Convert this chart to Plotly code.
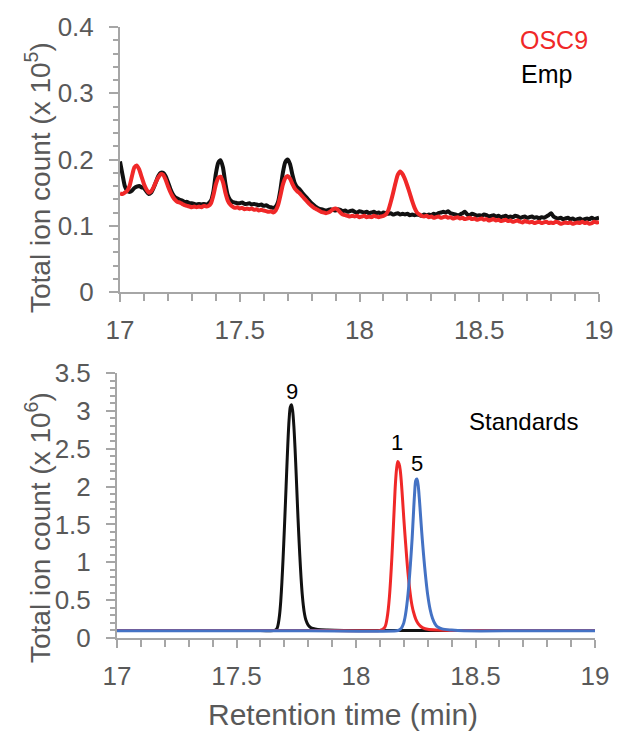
import plotly.graph_objects as go

# ---------------- DATA ----------------
# Top panel: sample extracts (x 10^5 total ion count)
time_top = [
    17.00, 17.01, 17.02, 17.03, 17.04, 17.05, 17.06, 17.07, 17.08, 17.09,
    17.10, 17.11, 17.12, 17.13, 17.14, 17.15, 17.16, 17.17, 17.18, 17.19,
    17.20, 17.21, 17.22, 17.23, 17.24, 17.25, 17.26, 17.27, 17.28, 17.29,
    17.30, 17.31, 17.32, 17.33, 17.34, 17.35, 17.36, 17.37, 17.38, 17.39,
    17.40, 17.41, 17.42, 17.43, 17.44, 17.45, 17.46, 17.47, 17.48, 17.49,
    17.50, 17.51, 17.52, 17.53, 17.54, 17.55, 17.56, 17.57, 17.58, 17.59,
    17.60, 17.61, 17.62, 17.63, 17.64, 17.65, 17.66, 17.67, 17.68, 17.69,
    17.70, 17.71, 17.72, 17.73, 17.74, 17.75, 17.76, 17.77, 17.78, 17.79,
    17.80, 17.81, 17.82, 17.83, 17.84, 17.85, 17.86, 17.87, 17.88, 17.89,
    17.90, 17.91, 17.92, 17.93, 17.94, 17.95, 17.96, 17.97, 17.98, 17.99,
    18.00, 18.01, 18.02, 18.03, 18.04, 18.05, 18.06, 18.07, 18.08, 18.09,
    18.10, 18.11, 18.12, 18.13, 18.14, 18.15, 18.16, 18.17, 18.18, 18.19,
    18.20, 18.21, 18.22, 18.23, 18.24, 18.25, 18.26, 18.27, 18.28, 18.29,
    18.30, 18.31, 18.32, 18.33, 18.34, 18.35, 18.36, 18.37, 18.38, 18.39,
    18.40, 18.41, 18.42, 18.43, 18.44, 18.45, 18.46, 18.47, 18.48, 18.49,
    18.50, 18.51, 18.52, 18.53, 18.54, 18.55, 18.56, 18.57, 18.58, 18.59,
    18.60, 18.61, 18.62, 18.63, 18.64, 18.65, 18.66, 18.67, 18.68, 18.69,
    18.70, 18.71, 18.72, 18.73, 18.74, 18.75, 18.76, 18.77, 18.78, 18.79,
    18.80, 18.81, 18.82, 18.83, 18.84, 18.85, 18.86, 18.87, 18.88, 18.89,
    18.90, 18.91, 18.92, 18.93, 18.94, 18.95, 18.96, 18.97, 18.98, 18.99,
    19.00,
]

emp_counts = [
    0.197, 0.178, 0.160, 0.153, 0.151, 0.153, 0.157, 0.159, 0.160, 0.158,
    0.157, 0.152, 0.148, 0.150, 0.157, 0.166, 0.175, 0.180, 0.180, 0.175,
    0.166, 0.156, 0.148, 0.143, 0.141, 0.139, 0.138, 0.136, 0.136, 0.134,
    0.134, 0.133, 0.132, 0.133, 0.132, 0.133, 0.132, 0.134, 0.138, 0.152,
    0.178, 0.195, 0.199, 0.188, 0.164, 0.146, 0.139, 0.136, 0.135, 0.134,
    0.134, 0.135, 0.133, 0.133, 0.134, 0.132, 0.133, 0.132, 0.131, 0.132,
    0.130, 0.131, 0.129, 0.128, 0.127, 0.129, 0.136, 0.155, 0.180, 0.196,
    0.200, 0.193, 0.177, 0.164, 0.158, 0.155, 0.150, 0.146, 0.142, 0.138,
    0.134, 0.131, 0.128, 0.126, 0.125, 0.124, 0.123, 0.124, 0.125, 0.124,
    0.123, 0.125, 0.124, 0.122, 0.123, 0.121, 0.122, 0.123, 0.121, 0.120,
    0.122, 0.121, 0.120, 0.121, 0.119, 0.120, 0.121, 0.119, 0.120, 0.118,
    0.120, 0.119, 0.118, 0.119, 0.117, 0.118, 0.119, 0.117, 0.118, 0.117,
    0.118, 0.116, 0.117, 0.116, 0.117, 0.116, 0.115, 0.117, 0.116, 0.117,
    0.116, 0.118, 0.117, 0.119, 0.120, 0.121, 0.120, 0.122, 0.119, 0.118,
    0.117, 0.116, 0.117, 0.119, 0.121, 0.117, 0.116, 0.118, 0.117, 0.115,
    0.116, 0.115, 0.117, 0.116, 0.114, 0.115, 0.116, 0.114, 0.115, 0.113,
    0.114, 0.115, 0.113, 0.114, 0.113, 0.115, 0.114, 0.112, 0.113, 0.114,
    0.112, 0.113, 0.114, 0.112, 0.113, 0.111, 0.113, 0.112, 0.114, 0.116,
    0.119, 0.114, 0.112, 0.111, 0.112, 0.110, 0.111, 0.112, 0.110, 0.111,
    0.109, 0.110, 0.111, 0.109, 0.110, 0.111, 0.110, 0.112, 0.110, 0.111,
    0.112,
]

osc9_counts = [
    0.149, 0.148, 0.150, 0.153, 0.160, 0.175, 0.188, 0.191, 0.185, 0.174,
    0.163, 0.155, 0.150, 0.152, 0.158, 0.166, 0.173, 0.178, 0.177, 0.170,
    0.160, 0.151, 0.144, 0.139, 0.136, 0.135, 0.133, 0.131, 0.130, 0.129,
    0.128, 0.129, 0.128, 0.129, 0.128, 0.130, 0.129, 0.130, 0.134, 0.146,
    0.162, 0.172, 0.174, 0.166, 0.150, 0.138, 0.132, 0.129, 0.127, 0.128,
    0.126, 0.127, 0.125, 0.126, 0.125, 0.126, 0.124, 0.125, 0.123, 0.124,
    0.123, 0.122, 0.121, 0.122, 0.120, 0.123, 0.131, 0.146, 0.162, 0.172,
    0.175, 0.171, 0.163, 0.156, 0.152, 0.149, 0.145, 0.141, 0.137, 0.133,
    0.130, 0.127, 0.125, 0.123, 0.121, 0.120, 0.119, 0.120, 0.122, 0.125,
    0.126, 0.124, 0.120, 0.117, 0.116, 0.115, 0.114, 0.115, 0.114, 0.115,
    0.113, 0.114, 0.115, 0.113, 0.114, 0.113, 0.115, 0.114, 0.113, 0.114,
    0.115, 0.117, 0.123, 0.135, 0.149, 0.164, 0.177, 0.182, 0.178, 0.170,
    0.160, 0.149, 0.137, 0.127, 0.120, 0.117, 0.115, 0.114, 0.115, 0.113,
    0.114, 0.112, 0.113, 0.114, 0.112, 0.113, 0.114, 0.112, 0.113, 0.111,
    0.112, 0.113, 0.111, 0.112, 0.110, 0.111, 0.112, 0.110, 0.111, 0.109,
    0.110, 0.111, 0.109, 0.110, 0.108, 0.109, 0.110, 0.108, 0.109, 0.107,
    0.108, 0.109, 0.107, 0.108, 0.106, 0.107, 0.108, 0.106, 0.105, 0.107,
    0.106, 0.105, 0.106, 0.104, 0.105, 0.106, 0.104, 0.105, 0.106, 0.104,
    0.105, 0.104, 0.106, 0.105, 0.103, 0.104, 0.105, 0.104, 0.105, 0.103,
    0.104, 0.105, 0.104, 0.106, 0.104, 0.105, 0.103, 0.104, 0.106, 0.105,
    0.106,
]

# Bottom panel: standards (x 10^6 total ion count)
time_std9 = [17.00, 17.30, 17.60, 17.66, 17.67, 17.675, 17.68, 17.685, 17.69, 17.695,
             17.70, 17.705, 17.71, 17.715, 17.72, 17.725, 17.73, 17.735, 17.74, 17.745,
             17.75, 17.755, 17.76, 17.765, 17.77, 17.775, 17.78, 17.785, 17.79, 17.80,
             17.81, 17.82, 17.84, 17.88, 17.95, 18.20, 18.60, 19.00]
std9_counts = [0.10, 0.10, 0.10, 0.10, 0.13, 0.19, 0.30, 0.48, 0.74, 1.06,
               1.42, 1.80, 2.20, 2.58, 2.88, 3.05, 3.08, 3.00, 2.80, 2.50,
               2.14, 1.76, 1.40, 1.08, 0.80, 0.58, 0.42, 0.31, 0.24, 0.17,
               0.14, 0.125, 0.112, 0.105, 0.10, 0.10, 0.10, 0.10]

time_std1 = [17.00, 17.40, 17.80, 18.10, 18.11, 18.12, 18.125, 18.13, 18.135, 18.14,
             18.145, 18.15, 18.155, 18.16, 18.165, 18.17, 18.175, 18.18, 18.185, 18.19,
             18.195, 18.20, 18.205, 18.21, 18.215, 18.22, 18.225, 18.23, 18.235, 18.24,
             18.25, 18.26, 18.27, 18.28, 18.30, 18.34, 18.40, 18.70, 19.00]
std1_counts = [0.10, 0.10, 0.10, 0.10, 0.11, 0.14, 0.18, 0.26, 0.38, 0.55,
               0.78, 1.06, 1.38, 1.72, 2.04, 2.24, 2.33, 2.30, 2.22, 2.05,
               1.82, 1.58, 1.36, 1.15, 0.95, 0.78, 0.63, 0.51, 0.42, 0.35,
               0.25, 0.19, 0.155, 0.135, 0.115, 0.105, 0.10, 0.10, 0.10]

time_std5 = [17.00, 17.40, 17.80, 18.17, 18.18, 18.19, 18.195, 18.20, 18.205, 18.21,
             18.215, 18.22, 18.225, 18.23, 18.235, 18.24, 18.245, 18.25, 18.255, 18.26,
             18.265, 18.27, 18.275, 18.28, 18.285, 18.29, 18.295, 18.30, 18.31, 18.32,
             18.33, 18.34, 18.36, 18.40, 18.45, 18.70, 19.00]
std5_counts = [0.095, 0.095, 0.095, 0.095, 0.105, 0.13, 0.16, 0.20, 0.27, 0.37,
               0.50, 0.66, 0.86, 1.08, 1.32, 1.62, 1.90, 2.08, 2.10, 2.02,
               1.84, 1.62, 1.40, 1.20, 1.02, 0.85, 0.70, 0.57, 0.38, 0.26,
               0.19, 0.15, 0.12, 0.105, 0.095, 0.095, 0.095]

x_ticks = [17, 17.5, 18, 18.5, 19]
x_tick_text = ["17", "17.5", "18", "18.5", "19"]
top_y_ticks = [0, 0.1, 0.2, 0.3, 0.4]
top_y_tick_text = ["0", "0.1", "0.2", "0.3", "0.4"]
bot_y_ticks = [0, 0.5, 1, 1.5, 2, 2.5, 3, 3.5]
bot_y_tick_text = ["0", "0.5", "1", "1.5", "2", "2.5", "3", "3.5"]

peak_labels = ["9", "1", "5"]
peak_label_x = [17.733, 18.172, 18.255]
peak_label_y = [3.26, 2.58, 2.31]

# ---------------- STYLE ----------------
W, H = 617, 731
FONT = "Liberation Sans, Arial, sans-serif"
AXIS_GRAY = "#a6a6a6"
TEXT_GRAY = "#595959"
RED = "#f02828"
BLUE = "#4472c4"
BLACK = "#111111"


def px_x(p):
    return p / W


def px_y(p):
    return 1 - p / H


fig = go.Figure()

fig.add_trace(go.Scatter(x=time_top, y=emp_counts, mode="lines", name="Emp",
                         line=dict(color=BLACK, width=4, shape="spline", smoothing=0.6),
                         xaxis="x", yaxis="y"))
fig.add_trace(go.Scatter(x=time_top, y=osc9_counts, mode="lines", name="OSC9",
                         line=dict(color=RED, width=4, shape="spline", smoothing=0.6),
                         xaxis="x", yaxis="y"))

fig.add_trace(go.Scatter(x=time_std9, y=std9_counts, mode="lines", name="9",
                         line=dict(color=BLACK, width=3, shape="spline", smoothing=0.8),
                         xaxis="x2", yaxis="y2"))
fig.add_trace(go.Scatter(x=time_std1, y=std1_counts, mode="lines", name="1",
                         line=dict(color=RED, width=3, shape="spline", smoothing=0.8),
                         xaxis="x2", yaxis="y2"))
fig.add_trace(go.Scatter(x=time_std5, y=std5_counts, mode="lines", name="5",
                         line=dict(color=BLUE, width=3, shape="spline", smoothing=0.8),
                         xaxis="x2", yaxis="y2"))

tickfont = dict(family=FONT, size=26, color=TEXT_GRAY)

common_x = dict(range=[17, 19], tickvals=x_ticks, ticktext=x_tick_text,
                showline=True, linecolor=AXIS_GRAY, linewidth=2,
                ticks="outside", ticklen=8, tickwidth=2, tickcolor=AXIS_GRAY,
                minor=dict(dtick=0.1, tick0=17, ticks="outside", ticklen=7,
                           tickwidth=2, tickcolor=AXIS_GRAY),
                showgrid=False, zeroline=False, tickfont=tickfont,
                automargin=False, fixedrange=True, ticklabelstandoff=6,
                ticklabeloverflow="allow")

common_y = dict(showline=True, linecolor=AXIS_GRAY, linewidth=2,
                ticks="outside", ticklen=9, tickwidth=2, tickcolor=AXIS_GRAY,
                showgrid=False, zeroline=False, tickfont=tickfont,
                automargin=False, fixedrange=True, ticklabelstandoff=10,
                ticklabeloverflow="allow")

fig.update_layout(
    width=W, height=H,
    margin=dict(l=0, r=0, t=0, b=0),
    paper_bgcolor="white", plot_bgcolor="white",
    showlegend=False,
    xaxis=dict(domain=[px_x(120), px_x(599)], anchor="y", **common_x),
    yaxis=dict(domain=[px_y(292), px_y(27)], anchor="x", range=[0, 0.4],
               tickvals=top_y_ticks, ticktext=top_y_tick_text,
               minor=dict(dtick=0.02, tick0=0, ticks="outside", ticklen=5,
                          tickwidth=2, tickcolor=AXIS_GRAY),
               **common_y),
    xaxis2=dict(domain=[px_x(117), px_x(595)], anchor="y2", **common_x),
    yaxis2=dict(domain=[px_y(638), px_y(373)], anchor="x2", range=[0, 3.5],
                tickvals=bot_y_ticks, ticktext=bot_y_tick_text,
                minor=dict(dtick=0.1, tick0=0, ticks="outside", ticklen=5,
                           tickwidth=2, tickcolor=AXIS_GRAY),
                **common_y),
)

annotations = [
    dict(text="Total ion count (x 10<sup>5</sup>)", x=px_x(38), y=px_y(178),
         xref="paper", yref="paper", textangle=-90, showarrow=False,
         xanchor="center", yanchor="middle",
         font=dict(family=FONT, size=28, color=TEXT_GRAY)),
    dict(text="Total ion count (x 10<sup>6</sup>)", x=px_x(38), y=px_y(528),
         xref="paper", yref="paper", textangle=-90, showarrow=False,
         xanchor="center", yanchor="middle",
         font=dict(family=FONT, size=28, color=TEXT_GRAY)),
    dict(text="Retention time (min)", x=px_x(343), y=px_y(714),
         xref="paper", yref="paper", showarrow=False,
         xanchor="center", yanchor="middle",
         font=dict(family=FONT, size=30, color=TEXT_GRAY)),
    dict(text="OSC9", x=px_x(518), y=px_y(40), xref="paper", yref="paper",
         showarrow=False, xanchor="left", yanchor="middle",
         font=dict(family=FONT, size=25, color=RED)),
    dict(text="Emp", x=px_x(519), y=px_y(74), xref="paper", yref="paper",
         showarrow=False, xanchor="left", yanchor="middle",
         font=dict(family=FONT, size=25, color="#000000")),
    dict(text="Standards", x=px_x(467), y=px_y(421), xref="paper", yref="paper",
         showarrow=False, xanchor="left", yanchor="middle",
         font=dict(family=FONT, size=24, color="#000000")),
]
for lab, lx, ly in zip(peak_labels, peak_label_x, peak_label_y):
    annotations.append(dict(text=lab, x=lx, y=ly, xref="x2", yref="y2",
                            showarrow=False, xanchor="center", yanchor="middle",
                            font=dict(family=FONT, size=22, color="#000000")))
fig.update_layout(annotations=annotations)

# Remove the default 8px page margin (and any scrollbars) so the figure
# fills the 617x731 window exactly.
page_css = ("document.body.style.margin='0';"
            "document.body.style.overflow='hidden';"
            "document.documentElement.style.overflow='hidden';")

fig.write_html("out.html", post_script=page_css,
               config={"displayModeBar": False, "staticPlot": True})
